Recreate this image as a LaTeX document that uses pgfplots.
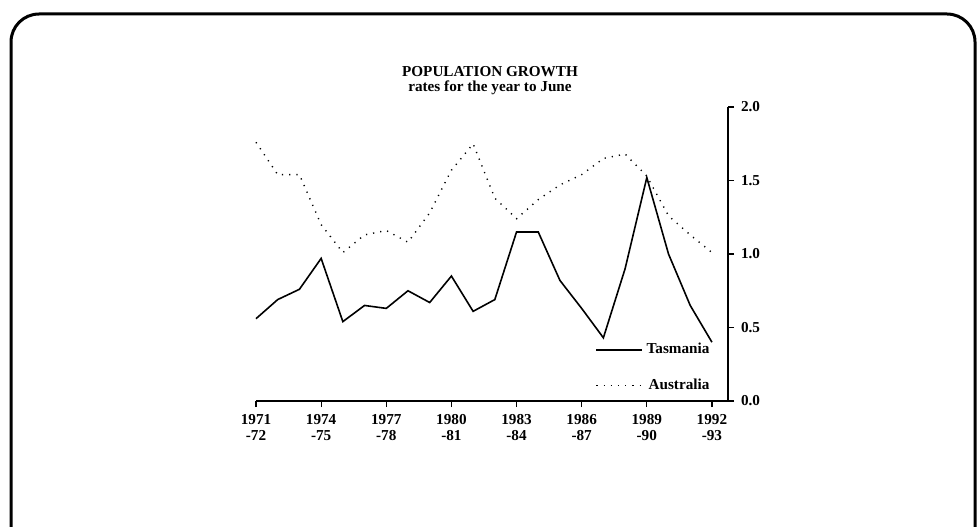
\documentclass[border=0pt]{standalone}
\usepackage{fontspec}
\setmainfont{Liberation Serif}
\usepackage{pgfplots}
\usepackage{pgfplotstable}
\pgfplotsset{compat=1.18}
\pgfplotstableread{
idx tas aus
0  0.56 1.76
1  0.69 1.54
2  0.76 1.54
3  0.97 1.20
4  0.54 1.01
5  0.65 1.13
6  0.63 1.16
7  0.75 1.08
8  0.67 1.28
9  0.85 1.57
10 0.61 1.75
11 0.69 1.38
12 1.15 1.24
13 1.15 1.37
14 0.82 1.47
15 0.63 1.54
16 0.43 1.65
17 0.90 1.68
18 1.52 1.53
19 1.00 1.26
20 0.65 1.13
21 0.40 1.01
}\datatab
\newcommand{\lblfont}{\fontsize{7.6}{8.2}\selectfont\bfseries}
\begin{document}
\begin{tikzpicture}[x=0.5pt,y=0.5pt]
\useasboundingbox (0,0) rectangle (979,526);
\clip (0,0) rectangle (979,526);
\draw[line width=1.5pt, rounded corners=14pt] (11,512) rectangle (975,-40);
\node[font=\lblfont] at (490,454) {POPULATION GROWTH};
\node[font=\lblfont] at (490,438) {rates for the year to June};
\begin{axis}[
  at={(128pt,62.5pt)}, anchor=south west,
  scale only axis, width=236pt, height=147pt,
  xmin=0, xmax=21.74, ymin=0, ymax=2,
  axis x line*=bottom, axis y line*=right,
  axis line style={line width=0.7pt, -},
  tick align=outside, major tick length=3pt,
  tick style={line width=0.6pt, black},
  xtick={0,3,...,21},
  xticklabels={1971\\-72,1974\\-75,1977\\-78,1980\\-81,1983\\-84,1986\\-87,1989\\-90,1992\\-93},
  xticklabel style={align=center, font=\lblfont},
  ytick={0,0.5,1,1.5,2},
  yticklabel style={font=\lblfont, /pgf/number format/.cd, fixed, fixed zerofill, precision=1, assume math mode=true},
  clip=false,
  legend cell align=right,
  legend style={draw=none, fill=none, at={(0.97,0.015)}, anchor=south east, font=\lblfont, row sep=7pt, inner sep=0pt},
  legend image code/.code={\draw[#1] (0cm,0cm) -- (0.8cm,0cm);},
]
\addplot[black, line width=0.8pt] table[x=idx, y=tas] {\datatab};
\addlegendentry{Tasmania}
\addplot[black, line width=0.7pt, dash pattern=on 0.6pt off 3pt] table[x=idx, y=aus] {\datatab};
\addlegendentry{Australia}
\end{axis}
\end{tikzpicture}
\end{document}
